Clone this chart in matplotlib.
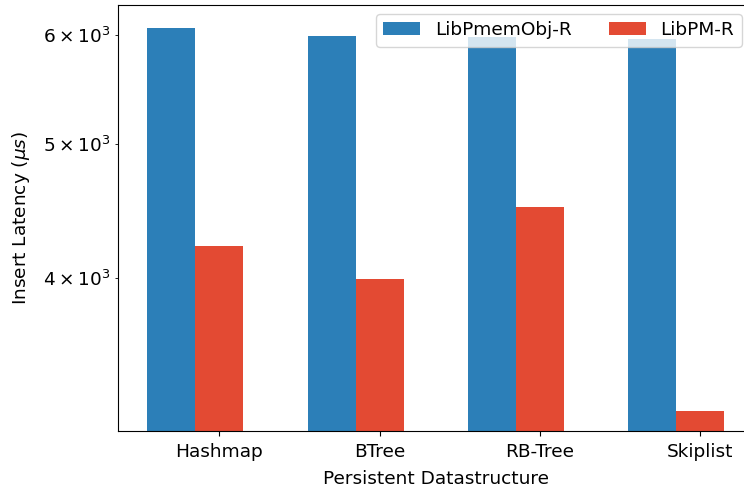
import numpy as np
import matplotlib
matplotlib.use("Agg")
import matplotlib.pyplot as plt

structures = ["Hashmap", "BTree", "RB-Tree", "Skiplist"]
pmemobj = [6068, 5990, 5975, 5960]
libpm = [4218, 3991, 4502, 3201]

plt.rcParams['font.size'] = 13.3

fig = plt.figure(figsize=(7.44, 4.88), dpi=100)
# axes runs slightly past the right edge of the figure, as in the original crop
ax = fig.add_axes([118/744, 57.3/488, (753-118)/744, (430.7-5)/488])

x = np.arange(len(structures))
w = 0.3
ax.bar(x - w, pmemobj, w, color="#2c7fb8", label="LibPmemObj-R")
ax.bar(x, libpm, w, color="#e34a33", label="LibPM-R")

ax.set_yscale("log")
ax.set_ylim(3098, 6308)
ax.set_xlim(-0.633, 3.33)
ax.set_xticks(x)
ax.set_xticklabels(structures)
ax.tick_params(axis='x', pad=5.5)
ax.tick_params(axis='y', pad=5)
ax.set_xlabel("Persistent Datastructure", labelpad=6)
ax.set_ylabel(r"Insert Latency ($\mu s$)", labelpad=8)
ax.spines['right'].set_visible(False)

ax.legend(ncol=2, loc="upper right", bbox_to_anchor=(741.7/744, (488-14)/488),
          bbox_transform=fig.transFigure, borderaxespad=0)

fig.savefig("out.png")
